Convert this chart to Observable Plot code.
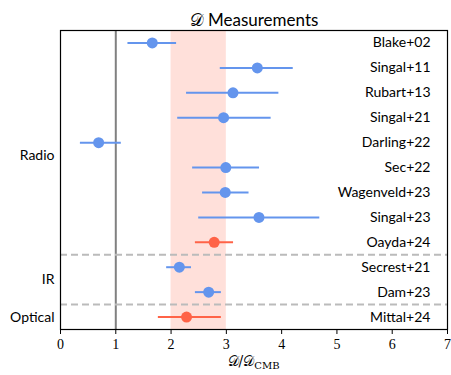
<!DOCTYPE html>
<html>
<head>
<meta charset="utf-8">
<script src="https://cdn.jsdelivr.net/npm/d3@7"></script>
<script src="https://cdn.jsdelivr.net/npm/@observablehq/plot@0.6"></script>
<style>
  body { margin: 0; background: #fff; }
  svg { font-family: Lato, sans-serif; }
</style>
</head>
<body>
<div id="chart"></div>
<script>
const studies = ["Blake+02","Singal+11","Rubart+13","Singal+21","Darling+22","Sec+22","Wagenveld+23","Singal+23","Oayda+24","Secrest+21","Dam+23","Mittal+24"];
const values  = [1.66, 3.56, 3.12, 2.95, 0.69, 2.99, 2.98, 3.59, 2.78, 2.15, 2.68, 2.28];
const lows    = [1.22, 2.89, 2.28, 2.12, 0.36, 2.39, 2.57, 2.50, 2.44, 1.92, 2.44, 1.77];
const highs   = [2.10, 4.21, 3.95, 3.81, 1.10, 3.60, 3.41, 4.69, 3.13, 2.37, 2.91, 2.91];
const highlighted = [false,false,false,false,false,false,false,false,true,false,false,true];
const groupNames = ["Radio","IR","Optical"];
const groupRows  = [4.5, 9.5, 11];
const separators = [8.5, 10.5];
const band = [2, 3];
const reference = [1];
const xTicks = [0,1,2,3,4,5,6,7];

const blue = "#6495ED", red = "#FF6347";
const rows = studies.map((s, i) => ({study: s, i, v: values[i], lo: lows[i], hi: highs[i], color: highlighted[i] ? red : blue}));

const plot = Plot.plot({
  width: 451,
  height: 375,
  marginLeft: 60,
  marginRight: 4,
  marginTop: 30,
  marginBottom: 46,
  style: {fontFamily: "Lato, sans-serif", fontSize: "14px", background: "white", overflow: "visible"},
  x: {domain: [0, 7], ticks: xTicks, tickSize: 5, label: null},
  y: {domain: [-0.5, 11.5], reverse: true, axis: null},
  marks: [
    Plot.rect([band], {x1: d => d[0], x2: d => d[1], fill: red, fillOpacity: 0.2}),
    Plot.ruleX(reference, {stroke: "#808080", strokeWidth: 2}),
    Plot.ruleY(separators, {stroke: "#bbbbbb", strokeWidth: 2, strokeDasharray: "7,4"}),
    Plot.ruleY(rows, {y: "i", x1: "lo", x2: "hi", stroke: "color", strokeWidth: 2}),
    Plot.dot(rows, {x: "v", y: "i", fill: "color", r: 5.5}),
    Plot.text(rows, {y: "i", text: "study", frameAnchor: "right", textAnchor: "end", dx: -17, fontSize: 14, fill: "black"}),
    Plot.axisY(groupRows, {tickSize: 0, tickPadding: 6, tickFormat: (d, k) => groupNames[k], fontSize: 14, label: null}),
    Plot.axisX(xTicks, {tickSize: 5, tickPadding: 5, fontFamily: "Liberation Serif, serif", fontSize: 14, label: null}),
    Plot.frame({stroke: "black", strokeWidth: 1.2}),
    Plot.text(["\u{1D49F} Measurements"], {frameAnchor: "top", dy: -17, fontSize: 17, fill: "black"})
  ]
});
document.getElementById("chart").appendChild(plot);

// x-axis label with subscript
const svg = d3.select(plot);
const lbl = svg.append("text")
  .attr("x", 60 + (451 - 64) / 2)
  .attr("y", 366)
  .attr("text-anchor", "middle")
  .attr("font-family", "DejaVu Serif, serif")
  .attr("font-size", 14)
  .attr("fill", "black");
lbl.append("tspan").text("\u{1D49F}/\u{1D49F}");
lbl.append("tspan").attr("font-size", 10).attr("dy", 3).text("CMB");
</script>
</body>
</html>
